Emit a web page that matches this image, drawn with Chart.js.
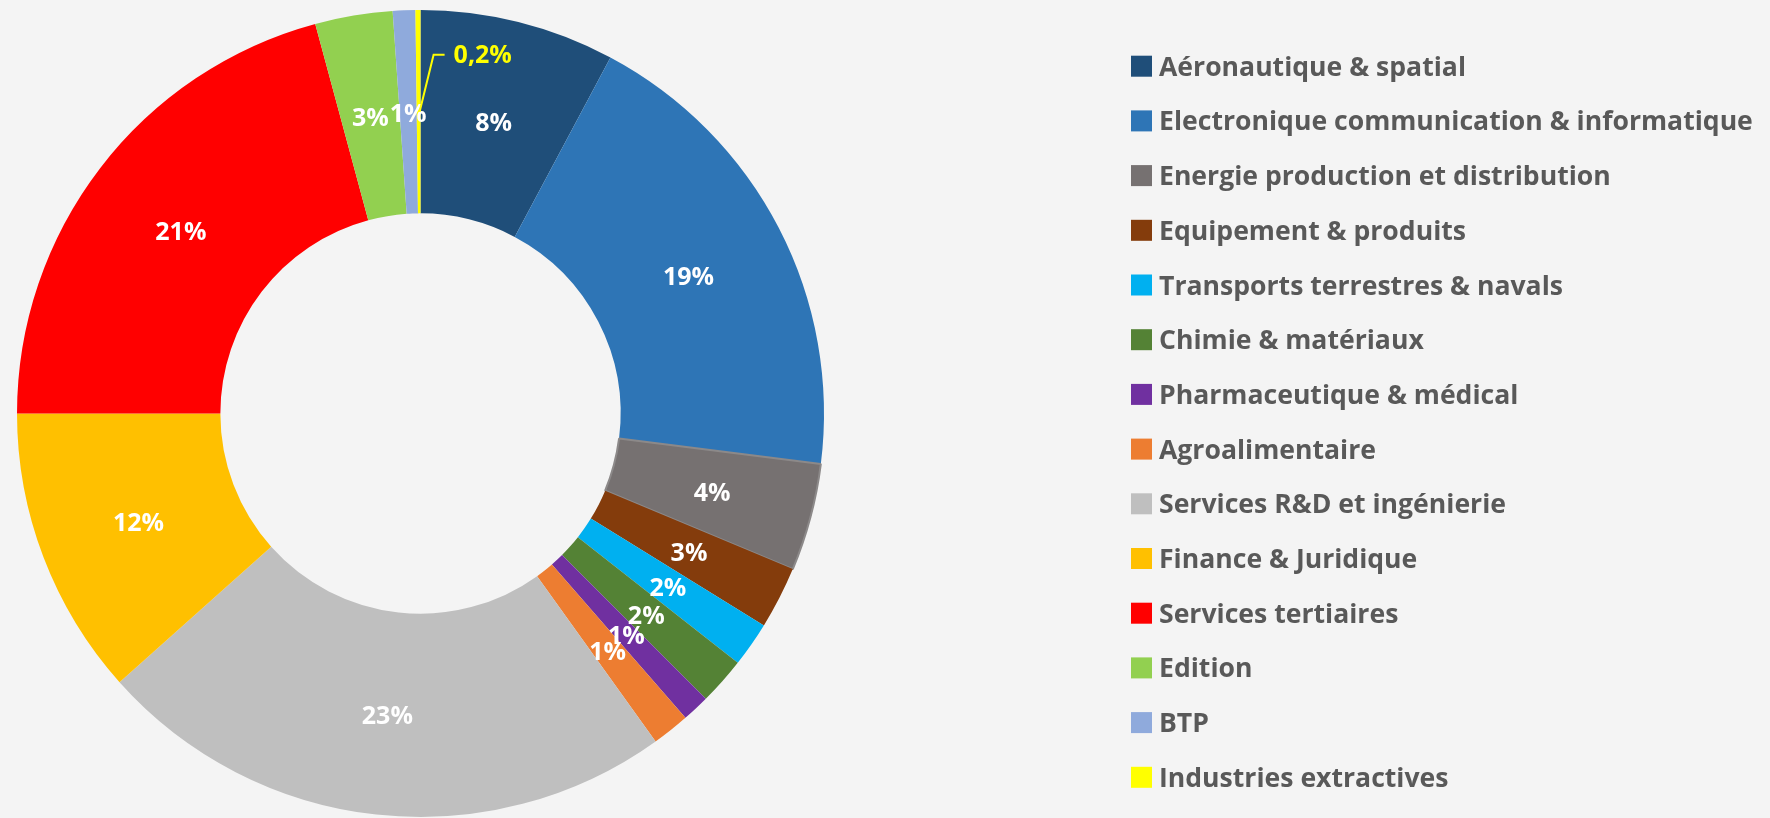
<!DOCTYPE html>
<html>
<head>
<meta charset="utf-8">
<script src="https://cdn.jsdelivr.net/npm/chart.js@4/dist/chart.umd.min.js"></script>
<style>
    html, body { margin: 0; padding: 0; background: #f4f4f4; }
    #wrap { width: 1770px; height: 818px; }
</style>
</head>
<body>
<div id="wrap"><canvas id="sectorChart" width="1770" height="818"></canvas></div>
<script>
const sectors = [
    "Aéronautique & spatial",
    "Electronique communication & informatique",
    "Energie production et distribution",
    "Equipement & produits",
    "Transports terrestres & navals",
    "Chimie & matériaux",
    "Pharmaceutique & médical",
    "Agroalimentaire",
    "Services R&D et ingénierie",
    "Finance & Juridique",
    "Services tertiaires",
    "Edition",
    "BTP",
    "Industries extractives"
];

const shares = [7.8, 19.2, 4.3, 2.5, 1.8, 1.9, 1.1, 1.5, 23.3, 11.6, 20.8, 3.1, 0.9, 0.2];

const shareLabels = ["8%", "19%", "4%", "3%", "2%", "2%", "1%", "1%", "23%", "12%", "21%", "3%", "1%", "0,2%"];

const colors = [
    "#1f4e79", "#2e75b6", "#767171", "#843c0c", "#00b0f0", "#548235", "#7030a0",
    "#ed7d31", "#bfbfbf", "#ffc000", "#ff0000", "#92d050", "#8faadc", "#ffff00"
];

// labels that sit outside the ring with a leader line
const outside = [13];

const FONT = "'Open Sans', 'DejaVu Sans', sans-serif";

const sliceLabels = {
    id: "sliceLabels",
    afterDatasetsDraw(chart) {
        const ctx = chart.ctx;
        const meta = chart.getDatasetMeta(0);
        ctx.save();
        ctx.font = "bold 25px " + FONT;
        ctx.textBaseline = "middle";
        meta.data.forEach((arc, i) => {
            const p = arc.tooltipPosition();
            if (outside.includes(i)) {
                const ex = p.x + 15, ey = p.y - 57;
                ctx.strokeStyle = colors[i];
                ctx.lineWidth = 2;
                ctx.beginPath();
                ctx.moveTo(p.x + 1, p.y);
                ctx.lineTo(ex, ey);
                ctx.lineTo(ex + 11, ey);
                ctx.stroke();
                ctx.fillStyle = colors[i];
                ctx.textAlign = "left";
                ctx.fillText(shareLabels[i], ex + 20, ey + 1);
            } else {
                ctx.fillStyle = "#ffffff";
                ctx.textAlign = "center";
                ctx.fillText(shareLabels[i], p.x, p.y + 3);
            }
        });
        ctx.restore();
    }
};

const sideLegend = {
    id: "sideLegend",
    afterDraw(chart) {
        const ctx = chart.ctx;
        const left = 1131, top = 66.2, step = 54.7, box = 21;
        ctx.save();
        ctx.font = "bold 26.6px " + FONT;
        ctx.textAlign = "left";
        ctx.textBaseline = "alphabetic";
        chart.data.labels.forEach((name, i) => {
            const cy = top + i * step;
            ctx.fillStyle = colors[i];
            ctx.fillRect(left, cy - box / 2, box, box);
            ctx.fillStyle = "#595959";
            ctx.fillText(name, left + 28, cy + 9.5);
        });
        ctx.restore();
    }
};

new Chart(document.getElementById("sectorChart"), {
    type: "doughnut",
    data: {
        labels: sectors,
        datasets: [{
            data: shares,
            backgroundColor: colors,
            borderWidth: shares.map((_, i) => i === 2 ? 2 : 0),
            borderColor: "#8c8989"
        }]
    },
    options: {
        responsive: false,
        animation: false,
        devicePixelRatio: 1,
        cutout: "49.6%",
        layout: {
            padding: { left: 15, top: 9, right: 944, bottom: 0 }
        },
        plugins: {
            legend: { display: false },
            tooltip: { enabled: false }
        }
    },
    plugins: [sliceLabels, sideLegend]
});
</script>
</body>
</html>
